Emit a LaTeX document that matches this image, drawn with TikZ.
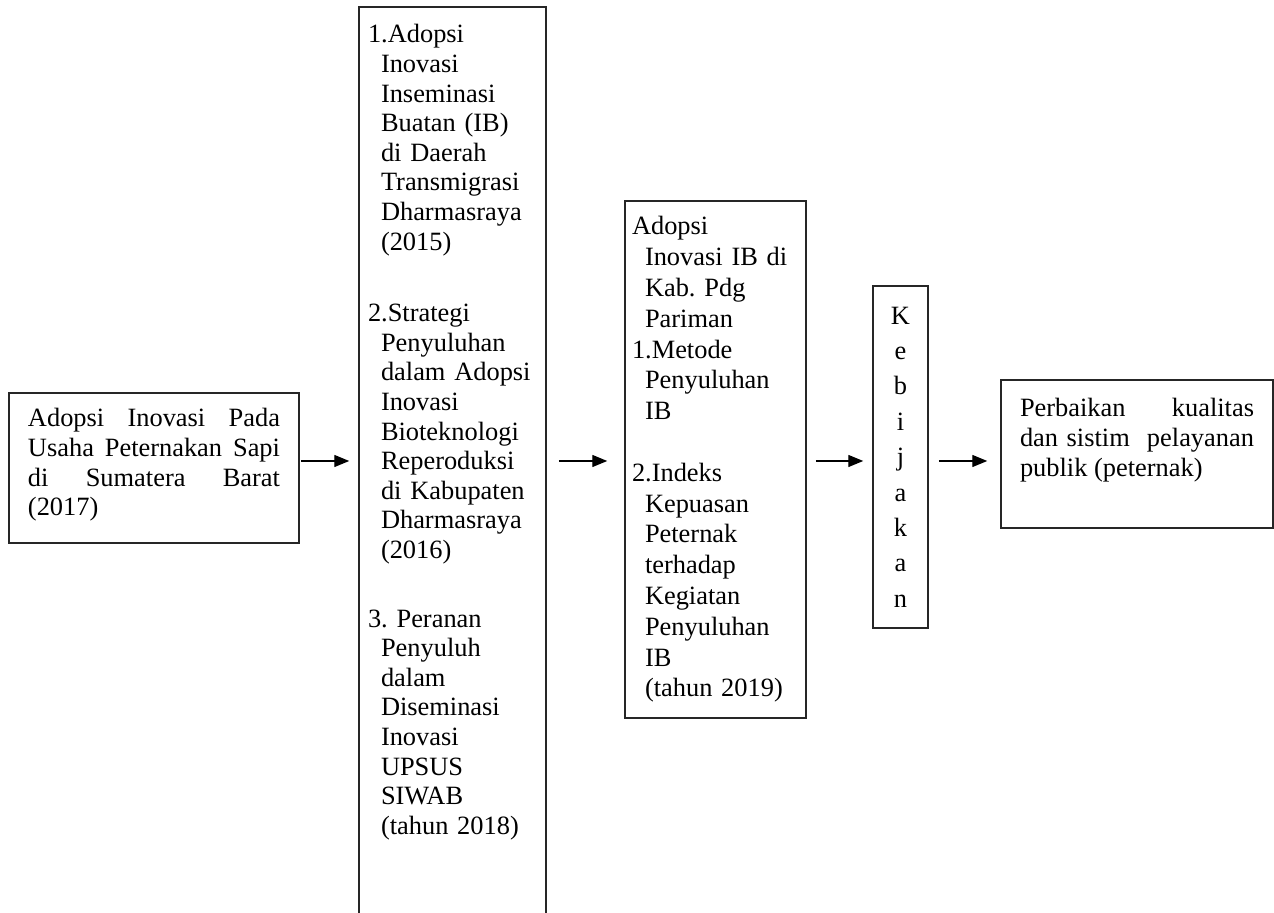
\documentclass[tikz,border=0pt]{standalone}
\usepackage{fontspec}
\setmainfont{Liberation Serif}
\usetikzlibrary{arrows.meta}
\frenchspacing

\begin{document}
\begin{tikzpicture}[
  block/.style={rectangle, draw=black!85, line width=0.75pt, inner ysep=0pt},
  >={Triangle[length=7.5pt,width=6pt]},
  font=\fontsize{13.2pt}{14.8pt}\selectfont
]
\useasboundingbox (-77pt,-222.5pt) rectangle (560pt,234pt);

\node[block, inner xsep=9.5pt, text width=126pt, align=justify, text height=17pt, text depth=58pt] (adopsi) {Adopsi Inovasi Pada\linebreak Usaha Peternakan Sapi\linebreak di Sumatera Barat\linebreak (2017)};
\node[block, right of=adopsi, node distance=149.25pt, yshift=1pt, inner xsep=4.5pt, text width=84.5pt, align=left, text height=18pt, text depth=441pt] (studi) {\parindent=6.5pt
  \noindent 1.Adopsi\\ Inovasi\\ Inseminasi\\ Buatan (IB)\\ di Daerah\\ Transmigrasi\\ Dharmasraya\\ (2015)\\[21pt]
  \noindent 2.Strategi\\ Penyuluhan\\ dalam Adopsi\\ Inovasi\\ Bioteknologi\\ Reperoduksi\\ di Kabupaten\\ Dharmasraya\\ (2016)\\[19.5pt]
  \noindent 3. Peranan\\ Penyuluh\\ dalam\\ Diseminasi\\ Inovasi\\ UPSUS\\ SIWAB\\ (tahun 2018)};
\node[block, right of=studi, node distance=131.5pt, yshift=3.25pt, inner xsep=3.5pt, text width=83.5pt, align=left, text height=17pt, text depth=241.5pt, font=\fontsize{13.2pt}{15.4pt}\selectfont] (pariman) {\parindent=6.5pt
  \noindent Adopsi\\ Inovasi IB di\\ Kab. Pdg\\ Pariman\\
  \noindent 1.Metode\\ Penyuluhan\\ IB\\[15.4pt]
  \noindent 2.Indeks\\ Kepuasan\\ Peternak\\ terhadap\\ Kegiatan\\ Penyuluhan\\ IB\\ (tahun 2019)};
\node[block, right of=pariman, node distance=92.5pt, yshift=1.25pt, minimum width=27.5pt, minimum height=171pt, inner sep=0pt, align=center, font=\fontsize{13.2pt}{17.7pt}\selectfont] (kebijakan) {K\\e\\b\\i\\j\\a\\k\\a\\n};
\node[block, right of=kebijakan, node distance=118.25pt, yshift=1.5pt, inner xsep=9.5pt, text width=117pt, align=justify, text height=18.5pt, text depth=55.5pt] (perbaikan) {Perbaikan kualitas\linebreak dan sistim~ pelayanan\linebreak publik (peternak)};

\coordinate (row) at (0,3.5pt);

\draw[->, line width=0.7pt, shorten <=0.5pt, shorten >=4.5pt] (adopsi.east |- row) -- (studi.west |- row);
\draw[->, line width=0.7pt, shorten <=6pt, shorten >=8.5pt] (studi.east |- row) -- (pariman.west |- row);
\draw[->, line width=0.7pt, shorten <=4.5pt, shorten >=4.5pt] (pariman.east |- row) -- (kebijakan.west |- row);
\draw[->, line width=0.7pt, shorten <=5pt, shorten >=6.5pt] (kebijakan.east |- row) -- (perbaikan.west |- row);
\end{tikzpicture}
\end{document}
